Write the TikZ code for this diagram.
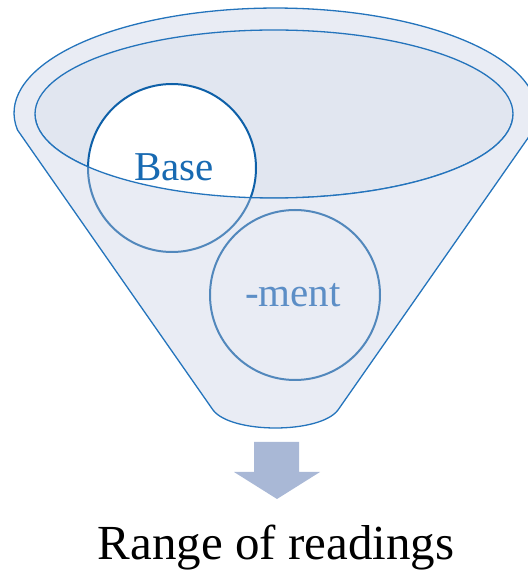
\documentclass[tikz,border=0pt]{standalone}
\usepackage{fontspec}
\setmainfont{Liberation Serif}

\definecolor{funnelfill}{RGB}{233,236,244}
\definecolor{rimfill}{RGB}{225,230,240}
\definecolor{funnelline}{RGB}{36,116,188}
\definecolor{basedark}{RGB}{14,96,168}
\definecolor{circlelight}{RGB}{82,136,188}
\definecolor{basetext}{RGB}{24,106,178}
\definecolor{menttext}{RGB}{92,142,198}
\definecolor{arrowfill}{RGB}{169,184,214}

% contorno dell'imbuto (unita' = pixel)
\newcommand{\funnelshape}{(17.5,444) arc[start angle=189.3, end angle=-9.3, x radius=261.5, y radius=105]
  -- (338,164) .. controls (320,140) and (231,140) .. (213,164) -- cycle}
% parte anteriore, sotto il bordo interno
\newcommand{\frontshape}{(35,460) arc[start angle=180, end angle=360, x radius=239, y radius=84]
  -- (560,460) -- (560,-20) -- (-20,-20) -- (-20,460) -- cycle}

\begin{document}
\begin{tikzpicture}[x=0.5pt, y=0.5pt,
    funnel/.style={draw=funnelline, line width=0.65pt},
    ring/.style={line width=1pt},
    label/.style={font=\fontsize{20.5}{24}\selectfont, anchor=base}]
    \useasboundingbox (0,0) rectangle (528,574);
    \clip (0,0) rectangle (528,574);

    % Imbuto (fondo e bordo)
    \fill[funnelfill] \funnelshape;
    \draw[funnel, fill=rimfill] (274,460) ellipse[x radius=239, y radius=84];

    % Cerchio "Base" (sopra il bordo)
    \draw[ring, draw=basedark, fill=white] (172,406) circle[radius=84];

    % Parte anteriore dell'imbuto
    \begin{scope}
        \clip \funnelshape;
        \fill[funnelfill] \frontshape;
        \begin{scope}
            \clip \frontshape;
            \draw[ring, draw=circlelight] (172,406) circle[radius=84];
        \end{scope}
    \end{scope}
    \draw[funnel] (35,460) arc[start angle=180, end angle=360, x radius=239, y radius=84];
    \draw[funnel] \funnelshape;

    % Cerchio "-ment"
    \draw[ring, draw=circlelight] (295,279) circle[radius=85];

    % Etichette
    \node[label, text=basetext] (base) at (174,393) {Base};
    \node[label, text=menttext] (ment) at (293,267) {-ment};

    % Freccia verso il risultato
    \fill[arrowfill] (254,132) -- (299,132) -- (299,102) -- (320,102) -- (277,75)
        -- (234,102) -- (254,102) -- cycle;
    \node[font=\fontsize{24.5}{28}\selectfont, anchor=base] (range) at (276,14) {Range of readings};
\end{tikzpicture}
\end{document}
